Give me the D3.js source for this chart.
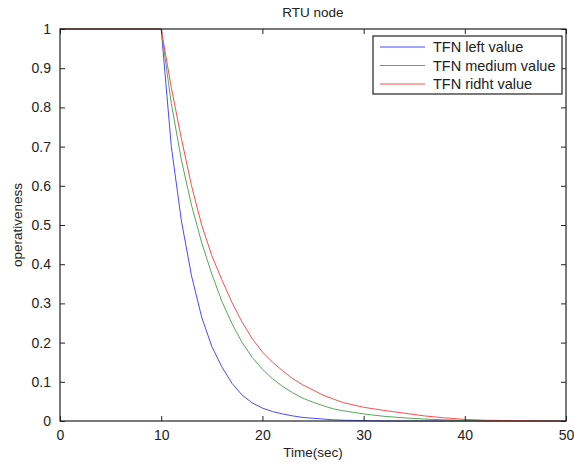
<!DOCTYPE html>
<html>
<head>
<meta charset="utf-8">
<script src="https://cdn.jsdelivr.net/npm/d3@7"></script>
<style>
  body { margin: 0; background: #fff; }
  text { font-family: "Liberation Sans", Arial, sans-serif; fill: #222; }
</style>
</head>
<body>
<div id="chart"></div>
<script>
// sampled times (sec)
const times = [0, 10, 11, 12, 13, 14, 15, 16, 17, 18, 19, 20, 21, 22, 23, 24, 25, 26, 27, 28, 29, 30, 32, 34, 36, 38, 40, 42, 45, 50];

// operativeness
const leftValue   = [1, 1, 0.70, 0.51, 0.37, 0.265, 0.19, 0.138, 0.096, 0.066, 0.046, 0.033, 0.024, 0.018, 0.013, 0.009, 0.007, 0.005, 0.003, 0.002, 0.0015, 0.001, 0, 0, 0, 0, 0, 0, 0, 0];
const mediumValue = [1, 1, 0.81, 0.665, 0.55, 0.455, 0.375, 0.305, 0.248, 0.20, 0.162, 0.132, 0.108, 0.088, 0.072, 0.058, 0.048, 0.039, 0.031, 0.026, 0.022, 0.018, 0.012, 0.008, 0.005, 0.003, 0.001, 0, 0, 0];
const rightValue  = [1, 1, 0.85, 0.72, 0.60, 0.50, 0.422, 0.36, 0.302, 0.252, 0.21, 0.176, 0.15, 0.128, 0.108, 0.092, 0.079, 0.066, 0.056, 0.047, 0.041, 0.035, 0.027, 0.02, 0.013, 0.008, 0.004, 0.002, 0.001, 0];

const seriesNames = ["TFN left value", "TFN medium value", "TFN ridht value"];
const seriesColors = ["#4a4aff", "#55aa55", "#ff4d4d"];
const xTicks = [0, 10, 20, 30, 40, 50];
const yTicks = [0, 0.1, 0.2, 0.3, 0.4, 0.5, 0.6, 0.7, 0.8, 0.9, 1];

const W = 574, H = 464;
const margin = {top: 29, right: 8, bottom: 43, left: 60};
const width = W - margin.left - margin.right;
const height = H - margin.top - margin.bottom;

const svg = d3.select("#chart").append("svg")
    .attr("width", W)
    .attr("height", H);

const g = svg.append("g")
    .attr("transform", `translate(${margin.left},${margin.top})`);

const x = d3.scaleLinear().domain([0, 50]).range([0, width]);
const y = d3.scaleLinear().domain([0, 1]).range([height, 0]);

// curves
const line = d3.line()
    .x((d, i) => x(times[i]))
    .y(d => y(d));

[leftValue, mediumValue, rightValue].forEach((vals, i) => {
    g.append("path")
        .datum(vals)
        .attr("fill", "none")
        .attr("stroke", seriesColors[i])
        .attr("stroke-width", 1)
        .attr("stroke-linejoin", "round")
        .attr("d", line);
});

// axes, ticks inward like matlab
const axisStyle = sel => {
    sel.select(".domain").remove();
    sel.selectAll(".tick line").attr("stroke", "#222");
    sel.selectAll(".tick text").style("font-size", "14px").attr("fill", "#222");
};

g.append("g")
    .attr("transform", `translate(0,${height})`)
    .call(d3.axisBottom(x).tickValues(xTicks).tickSizeInner(-5).tickSizeOuter(0).tickPadding(9))
    .call(axisStyle);

g.append("g")
    .call(d3.axisTop(x).tickValues(xTicks).tickSizeInner(-5).tickSizeOuter(0).tickFormat(""))
    .call(axisStyle);

g.append("g")
    .call(d3.axisLeft(y).tickValues(yTicks).tickSizeInner(-5).tickSizeOuter(0).tickPadding(9).tickFormat(d3.format("~g")))
    .call(axisStyle);

g.append("g")
    .attr("transform", `translate(${width},0)`)
    .call(d3.axisRight(y).tickValues(yTicks).tickSizeInner(-5).tickSizeOuter(0).tickFormat(""))
    .call(axisStyle);

g.append("rect")
    .attr("width", width)
    .attr("height", height)
    .attr("fill", "none")
    .attr("stroke", "#222")
    .attr("stroke-width", 1.2);

// labels
svg.append("text")
    .attr("x", margin.left + width / 2)
    .attr("y", 17)
    .attr("text-anchor", "middle")
    .style("font-size", "13.5px")
    .text("RTU node");

svg.append("text")
    .attr("x", margin.left + width / 2)
    .attr("y", 457)
    .attr("text-anchor", "middle")
    .style("font-size", "13.5px")
    .text("Time(sec)");

svg.append("text")
    .attr("transform", `translate(22,${margin.top + height / 2}) rotate(-90)`)
    .attr("text-anchor", "middle")
    .style("font-size", "13.5px")
    .text("operativeness");

// legend
const legend = svg.append("g").attr("transform", "translate(373,36)");
legend.append("rect")
    .attr("width", 189)
    .attr("height", 58)
    .attr("fill", "#fff")
    .attr("stroke", "#222")
    .attr("stroke-width", 1.2);

seriesNames.forEach((name, i) => {
    const cy = 11 + i * 18.5;
    legend.append("line")
        .attr("x1", 7).attr("x2", 52)
        .attr("y1", cy).attr("y2", cy)
        .attr("stroke", seriesColors[i])
        .attr("stroke-width", 1);
    legend.append("text")
        .attr("x", 60)
        .attr("y", cy + 5)
        .style("font-size", "14.5px")
        .text(name);
});
</script>
</body>
</html>
